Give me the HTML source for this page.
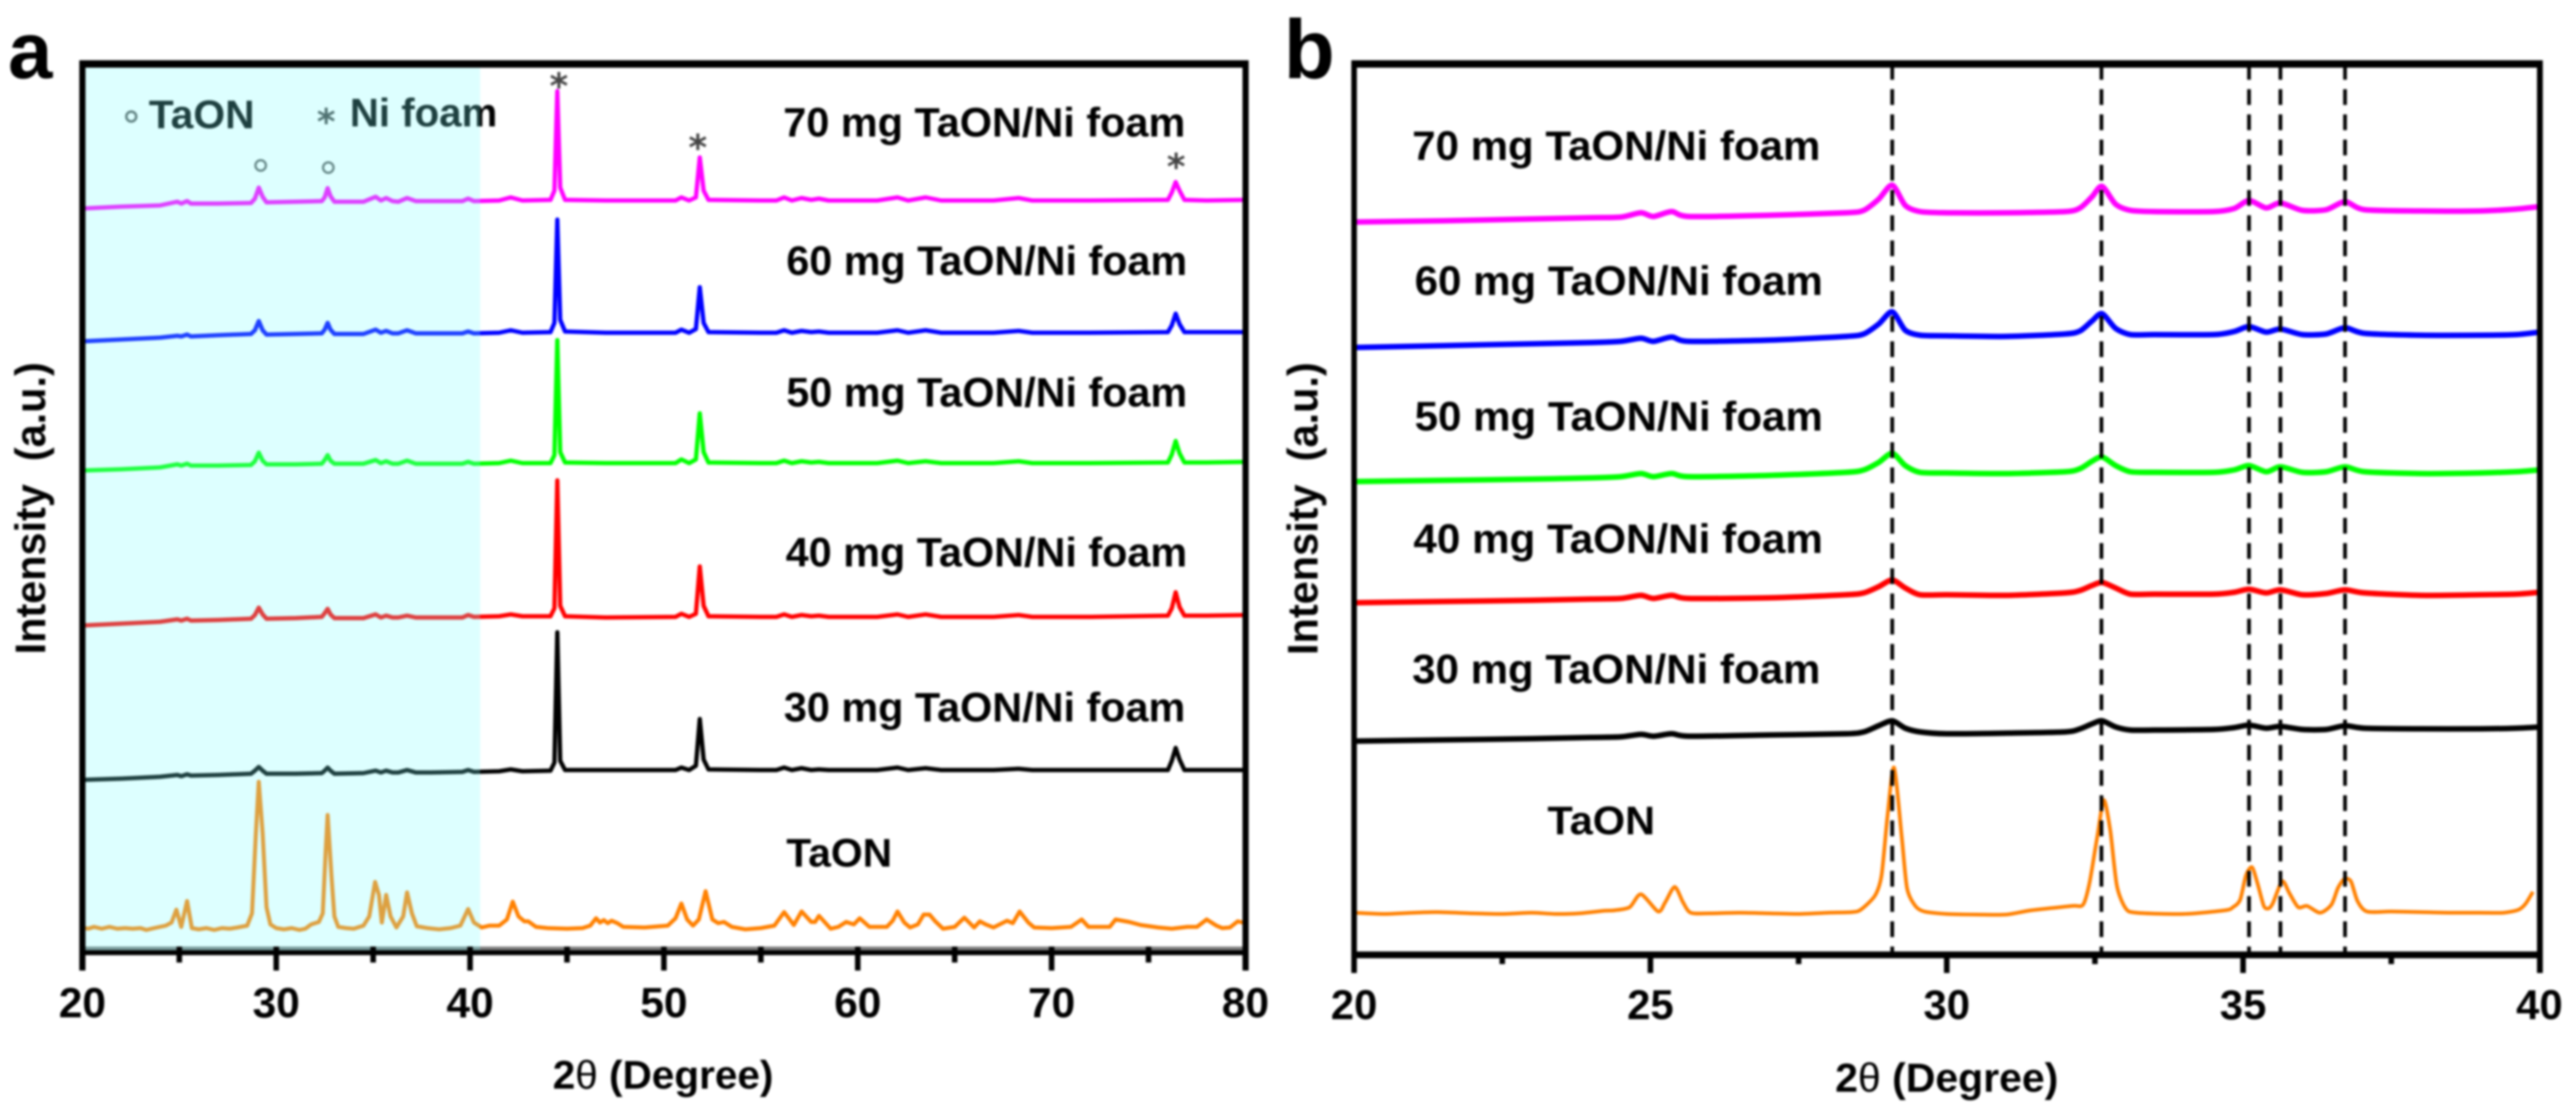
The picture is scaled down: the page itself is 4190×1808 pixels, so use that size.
<!DOCTYPE html>
<html lang="en">
<head>
<meta charset="utf-8">
<title>XRD patterns of TaON and TaON/Ni foam</title>
<style>
html,body{margin:0;padding:0;background:#fff;width:4190px;height:1808px;overflow:hidden}
svg{display:block;filter:blur(1.8px)}
text{font-family:"Liberation Sans","DejaVu Sans",sans-serif;font-weight:700;fill:#000}
</style>
</head>
<body>
<svg id="figure" xmlns="http://www.w3.org/2000/svg" width="4190" height="1808" viewBox="0 0 4190 1808">
  <rect x="0" y="0" width="4190" height="1808" fill="#fff"/>

  <g id="panelA">
    <text x="13" y="127" font-size="130">a</text>
    <g id="framesA"></g>
    <g id="tracesA"></g>
    <text x="1274" y="222" font-size="67" textLength="654" lengthAdjust="spacingAndGlyphs">70 mg TaON/Ni foam</text>
    <text x="1279" y="447" font-size="67" textLength="652" lengthAdjust="spacingAndGlyphs">60 mg TaON/Ni foam</text>
    <text x="1279" y="661" font-size="67" textLength="652" lengthAdjust="spacingAndGlyphs">50 mg TaON/Ni foam</text>
    <text x="1278" y="921" font-size="67" textLength="653" lengthAdjust="spacingAndGlyphs">40 mg TaON/Ni foam</text>
    <text x="1275" y="1173" font-size="67" textLength="653" lengthAdjust="spacingAndGlyphs">30 mg TaON/Ni foam</text>
    <text x="1279" y="1409" font-size="65" textLength="172" lengthAdjust="spacingAndGlyphs">TaON</text>

    <circle cx="213.5" cy="189.5" r="8" fill="none" stroke="#555" stroke-width="4"/>
    <text x="242" y="208.5" font-size="65" textLength="172" lengthAdjust="spacingAndGlyphs">TaON</text>
    <text x="530.5" y="218" font-size="58" text-anchor="middle" style="font-family:'DejaVu Sans',sans-serif;font-weight:700;fill:#444">*</text>
    <text x="569" y="205.5" font-size="65" textLength="240" lengthAdjust="spacingAndGlyphs">Ni foam</text>
    <circle cx="424" cy="269" r="8.5" fill="none" stroke="#555" stroke-width="3.5"/>
    <circle cx="534" cy="272.5" r="8.5" fill="none" stroke="#555" stroke-width="3.5"/>
    <text x="909" y="160" font-size="58" text-anchor="middle" style="font-family:'DejaVu Sans',sans-serif;font-weight:700;fill:#444">*</text>
    <text x="1135" y="260" font-size="58" text-anchor="middle" style="font-family:'DejaVu Sans',sans-serif;font-weight:700;fill:#444">*</text>
    <text x="1913" y="291" font-size="58" text-anchor="middle" style="font-family:'DejaVu Sans',sans-serif;font-weight:700;fill:#444">*</text>

    <rect x="139" y="110" width="642" height="1435" fill="rgb(120,255,255)" fill-opacity="0.25"/>
    <g id="ticksA"></g>
    <text x="899" y="1770" font-size="65" textLength="359" lengthAdjust="spacingAndGlyphs">2<tspan style="font-weight:400">θ</tspan> (Degree)</text>
    <text x="73.5" y="1064" transform="rotate(-90 73.5 1064)" font-size="70" textLength="475" lengthAdjust="spacingAndGlyphs" xml:space="preserve">Intensity  (a.u.)</text>
  </g>

  <g id="panelB">
    <text x="2088" y="127" font-size="136">b</text>
    <g id="framesB"></g>
    <g id="tracesB"></g>
    <g id="dashesB"></g>
    <text x="2297" y="260" font-size="67" textLength="664" lengthAdjust="spacingAndGlyphs">70 mg TaON/Ni foam</text>
    <text x="2301" y="479.5" font-size="67" textLength="664" lengthAdjust="spacingAndGlyphs">60 mg TaON/Ni foam</text>
    <text x="2301" y="700" font-size="67" textLength="664" lengthAdjust="spacingAndGlyphs">50 mg TaON/Ni foam</text>
    <text x="2299" y="899" font-size="67" textLength="666" lengthAdjust="spacingAndGlyphs">40 mg TaON/Ni foam</text>
    <text x="2297" y="1111" font-size="67" textLength="664" lengthAdjust="spacingAndGlyphs">30 mg TaON/Ni foam</text>
    <text x="2517" y="1356.5" font-size="65" textLength="175" lengthAdjust="spacingAndGlyphs">TaON</text>
    <g id="ticksB"></g>
    <text x="2985" y="1775" font-size="66" textLength="363" lengthAdjust="spacingAndGlyphs">2<tspan style="font-weight:400">θ</tspan> (Degree)</text>
    <text x="2143" y="1065" transform="rotate(-90 2143 1065)" font-size="70" textLength="476" lengthAdjust="spacingAndGlyphs" xml:space="preserve">Intensity  (a.u.)</text>
  </g>
</svg>

<script>
/* ---------- panel a data ---------- */
const thetaFoamA = [20,22,24,24.9,25.1,25.4,25.6,27,28.7,28.9,29.1,29.3,29.5,31,32.35,32.5,32.65,32.8,33,34.5,35.13,35.4,35.67,36,36.3,36.75,37.2,38,39.6,39.9,40.2,41.5,42.1,42.7,44.15,44.35,44.5,44.65,44.9,47,50.6,50.9,51.3,51.65,51.85,52.05,52.3,55,55.8,56.2,56.6,57.1,57.6,58,58.5,61,62.05,62.6,63.5,64.3,67,68.3,69,72,76,76.2,76.4,76.6,76.85,78,80];
const magentaA = [1206,1209,1211,1217,1214,1218,1214,1214,1215,1222,1240,1225,1216,1217,1218,1224,1239,1226,1217,1217,1225,1219,1223,1218,1217,1223,1218,1218,1218,1222,1218,1219,1224,1219,1220,1235,1397,1240,1220,1219,1219,1224,1219,1224,1289,1235,1220,1219,1219,1224,1219,1223,1220,1222,1219,1219,1224,1219,1224,1219,1219,1223,1219,1219,1220,1232,1249,1235,1220,1219,1220];
const blueA = [990,993,996,999,998,1001,998,1000,1002,1008,1023,1008,1001,1002,1003,1009,1020,1009,1002,1002,1009,1004,1007,1003,1003,1008,1003,1003,1003,1006,1003,1004,1008,1004,1005,1020,1188,1025,1006,1004,1004,1009,1004,1010,1078,1020,1005,1004,1004,1008,1004,1007,1005,1006,1004,1004,1008,1004,1008,1004,1004,1007,1004,1004,1005,1016,1035,1018,1005,1005,1005];
const greenA = [780,782,785,790,788,791,788,788,789,795,809,796,790,790,791,797,805,796,791,791,797,792,795,791,791,796,791,791,791,794,791,792,796,792,792,805,992,810,793,792,792,798,792,798,873,810,793,792,792,796,792,795,793,794,792,792,796,792,795,792,792,795,792,792,793,806,828,808,793,793,794];
const redA = [528,531,534,538,536,539,536,537,539,545,557,546,539,540,542,548,555,546,540,540,546,541,544,541,541,544,541,541,541,545,542,543,546,543,543,556,764,560,543,541,542,547,542,547,624,560,543,542,542,546,542,545,543,544,542,542,546,542,546,542,542,545,542,542,544,556,582,558,544,544,545];
const blackA = [277,279,282,285,283,286,284,285,287,292,298,292,287,287,288,292,297,292,287,288,292,289,292,289,289,293,289,289,290,293,290,291,294,291,292,305,517,308,293,293,293,297,293,300,376,310,294,293,293,297,293,296,293,294,293,293,297,293,296,293,293,295,293,293,293,308,329,310,293,293,293];
const thetaOrangeA = [20,20.3,20.6,21,21.4,21.8,22.2,22.6,23,23.3,23.7,24,24.3,24.6,24.85,25.1,25.4,25.65,26,26.4,26.8,27.2,27.6,28,28.5,28.75,28.95,29.1,29.3,29.5,29.7,30,30.4,30.8,31.2,31.5,31.8,32.2,32.4,32.55,32.65,32.85,33,33.2,33.6,34,34.5,34.8,35.1,35.3,35.45,35.67,35.9,36.2,36.55,36.75,37,37.25,37.8,38.4,39,39.5,39.9,40.2,40.6,41,41.5,41.9,42.2,42.5,42.8,43,43.4,44,45,45.8,46.2,46.5,46.7,46.9,47.1,47.3,47.6,47.9,49,50.2,50.6,50.9,51.2,51.5,51.8,52.15,52.5,52.8,53.1,53.5,54.2,55,55.7,56.2,56.7,57.1,57.6,57.8,58,58.6,59,59.4,59.8,60.1,60.6,61.5,61.8,62.05,62.4,62.7,63.1,63.4,63.7,64,64.4,65,65.5,66,66.3,66.6,67,67.7,68,68.35,68.8,69.1,70,71,71.55,71.9,72.5,73,73.3,74,74.6,75.5,76.2,77,77.5,78,78.5,78.8,79.2,79.6,80];
const orangeA = [37,35,38,35,38,35,36,35,36,33,36,38,40,45,66,38,80,36,34,36,33,36,35,37,40,60,190,274,190,70,42,36,34,36,33,35,42,46,60,160,220,120,55,38,36,35,40,55,111,90,45,90,55,37,55,94,60,39,36,34,36,40,67,45,37,40,40,50,79,55,47,47,38,36,35,36,40,52,45,49,44,48,44,38,37,40,52,76,50,40,50,96,50,44,46,38,34,36,40,62,41,63,46,46,56,35,38,46,42,52,38,38,48,63,45,37,42,58,58,47,35,38,53,37,47,42,37,48,44,63,45,37,36,38,50,38,38,38,50,46,41,37,35,38,38,50,40,36,37,47,44];
const xTicksMajorA = [20,30,40,50,60,70,80];
const xTicksMinorA = [25,35,45,55,65,75];

/* ---------- panel b data ---------- */
const thetaFoamB = [20,21.5,23,24,24.5,24.84,25.05,25.36,25.65,27,28.3,28.6,28.85,29.08,29.3,29.55,30,31,32,32.25,32.45,32.62,32.85,33.1,33.5,34.5,34.85,35.1,35.39,35.63,36,36.4,36.72,37.05,38,39,39.6,40];
const magentaB = [1191,1193,1196,1198,1199,1206,1200,1208,1200,1202,1206,1210,1228,1251,1218,1208,1206,1206,1208,1214,1232,1249,1220,1210,1208,1208,1213,1226,1214,1222,1210,1211,1224,1211,1209,1209,1212,1216];
const blueB = [987,990,993,995,997,1002,997,1004,997,999,1005,1009,1025,1045,1015,1007,1006,1005,1009,1014,1030,1042,1018,1008,1008,1008,1013,1021,1012,1017,1008,1009,1019,1010,1007,1007,1008,1012];
const greenB = [769,771,773,775,777,782,777,782,777,779,784,788,800,815,795,784,783,782,785,790,802,809,795,785,784,784,788,795,785,793,784,785,793,785,782,783,785,788];
const redB = [572,574,576,578,579,584,579,584,579,580,585,588,598,609,596,585,585,584,588,592,600,605,596,586,586,586,589,594,588,593,585,587,593,588,584,585,586,589];
const blackB = [347,349,351,353,354,358,355,359,355,357,359,362,372,380,368,362,359,360,362,367,375,380,370,365,365,366,369,373,368,371,366,366,372,368,367,367,368,370];
const thetaOrangeB = [20,20.5,21,21.4,22,22.5,23,23.4,23.8,24.2,24.4,24.65,24.84,25.13,25.25,25.41,25.55,25.68,26,26.5,27,27.5,28,28.4,28.55,28.79,28.9,29,29.11,29.24,29.33,29.47,29.62,30,30.5,31,31.43,32.11,32.3,32.41,32.54,32.65,32.76,32.87,33.02,33.2,34,34.7,34.83,34.95,35.05,35.15,35.24,35.35,35.43,35.5,35.66,35.78,35.93,36.08,36.3,36.49,36.6,36.71,36.82,36.93,37.09,37.5,38,38.5,39,39.4,39.65,39.77,39.89];
const orangeB = [68,66,68,69,67,66,68,66,67,71,72,77,98,70,85,110,85,68,67,68,67,66,68,69,73,96,129,225,304,192,108,79,70,66,65,65,72,79,81,117,192,251,201,112,75,68,66,72,77,89,129,142,117,79,75,83,119,100,77,79,68,81,108,123,119,87,70,70,69,68,68,68,73,83,102];
const peakGuidesB = [29.08,32.61,35.1,35.63,36.72];
const xTicksMajorB = [20,25,30,35,40];
const xTicksMinorB = [22.5,27.5,32.5,37.5];

/* ---------- axis functions ---------- */
function xA(t){ return 134 + (t - 20) * 31.53; }
function yA(v){ return 1545 - v; }
function xB(t){ return 2202.5 + (t - 20) * 96.4; }
function yB(v){ return 1552 - v; }

const NS = 'http://www.w3.org/2000/svg';

function makeRect(parent, x, y, w, h, fill){
  const el = document.createElementNS(NS, 'rect');
  el.setAttribute('x', x);
  el.setAttribute('y', y);
  el.setAttribute('width', w);
  el.setAttribute('height', h);
  el.setAttribute('fill', fill);
  parent.appendChild(el);
  return el;
}

function tracePath(pts, smooth){
  let d = 'M' + pts[0][0].toFixed(1) + ' ' + pts[0][1].toFixed(1);
  for (let i = 0; i < pts.length - 1; i++) {
    const p1 = pts[i];
    const p2 = pts[i + 1];
    if (!smooth) {
      d += 'L' + p2[0].toFixed(1) + ' ' + p2[1].toFixed(1);
      continue;
    }
    const p0 = pts[Math.max(0, i - 1)];
    const p3 = pts[Math.min(pts.length - 1, i + 2)];
    const c1x = p1[0] + (p2[0] - p0[0]) * 0.13;
    const c1y = p1[1] + (p2[1] - p0[1]) * 0.13;
    const c2x = p2[0] - (p3[0] - p1[0]) * 0.13;
    const c2y = p2[1] - (p3[1] - p1[1]) * 0.13;
    d += 'C' + c1x.toFixed(1) + ' ' + c1y.toFixed(1) + ' ' + c2x.toFixed(1) + ' ' + c2y.toFixed(1) + ' ' + p2[0].toFixed(1) + ' ' + p2[1].toFixed(1);
  }
  return d;
}

function drawTrace(parent, thetas, values, xf, yf, color, width, name, smooth){
  const pts = thetas.map(function(t, i){ return [xf(t), yf(values[i])]; });
  const el = document.createElementNS(NS, 'path');
  el.setAttribute('d', tracePath(pts, smooth));
  el.setAttribute('fill', 'none');
  el.setAttribute('stroke', color);
  el.setAttribute('stroke-width', width);
  el.setAttribute('stroke-linejoin', 'round');
  el.setAttribute('stroke-linecap', 'butt');
  
  
  parent.appendChild(el);
}

function drawTicks(parent, ticks, xf, top, bottom, width, prefix){
  ticks.forEach(function(t){
    const el = makeRect(parent, xf(t) - width / 2, top, width, bottom - top, '#000');
    
    
  });
}

function drawTickLabels(parent, ticks, xf, baseline, size, prefix){
  ticks.forEach(function(t){
    const el = document.createElementNS(NS, 'text');
    el.setAttribute('x', xf(t));
    el.setAttribute('y', baseline);
    el.setAttribute('font-size', size);
    el.setAttribute('text-anchor', 'middle');
    
    
    el.textContent = String(t);
    parent.appendChild(el);
  });
}

/* ---------- panel a ---------- */
const framesA = document.getElementById('framesA');
const tracesA = document.getElementById('tracesA');
const ticksA = document.getElementById('ticksA');

let frameEl = makeRect(framesA, 129, 98, 1902, 12, '#000');


frameEl = makeRect(framesA, 129, 1539, 1902, 6, '#7d7d7d');


frameEl = makeRect(framesA, 129, 1545, 1902, 8, '#000');



drawTrace(tracesA, thetaOrangeA, orangeA, xA, yA, '#ff8000', 6.5, 'trace-taon-a', false);
drawTrace(tracesA, thetaFoamA, blackA, xA, yA, '#000000', 7, 'trace-30mg-a', false);
drawTrace(tracesA, thetaFoamA, redA, xA, yA, '#ff0000', 7, 'trace-40mg-a', false);
drawTrace(tracesA, thetaFoamA, greenA, xA, yA, '#00ff00', 7, 'trace-50mg-a', false);
drawTrace(tracesA, thetaFoamA, blueA, xA, yA, '#0000ff', 7, 'trace-60mg-a', false);
drawTrace(tracesA, thetaFoamA, magentaA, xA, yA, '#ff00ff', 7, 'trace-70mg-a', false);

frameEl = makeRect(ticksA, 129, 98, 10, 1480, '#000');


frameEl = makeRect(ticksA, 2021, 98, 10, 1480, '#000');


drawTicks(ticksA, xTicksMajorA.slice(1, -1), xA, 1539, 1578, 9, 'panel-a-major-tick');
drawTicks(ticksA, xTicksMinorA, xA, 1539, 1565, 9, 'panel-a-minor-tick');
drawTickLabels(ticksA, xTicksMajorA, xA, 1654, 69, 'panel-a-tick-label');

/* ---------- panel b ---------- */
const framesB = document.getElementById('framesB');
const tracesB = document.getElementById('tracesB');
const dashesB = document.getElementById('dashesB');
const ticksB = document.getElementById('ticksB');

frameEl = makeRect(framesB, 2198, 98, 1938, 12, '#000');


frameEl = makeRect(framesB, 2198, 1547, 1938, 11, '#000');



drawTrace(tracesB, thetaOrangeB, orangeB, xB, yB, '#ff8000', 6, 'trace-taon-b', true);
drawTrace(tracesB, thetaFoamB, blackB, xB, yB, '#000000', 9, 'trace-30mg-b', true);
drawTrace(tracesB, thetaFoamB, redB, xB, yB, '#ff0000', 9, 'trace-40mg-b', true);
drawTrace(tracesB, thetaFoamB, greenB, xB, yB, '#00ff00', 9, 'trace-50mg-b', true);
drawTrace(tracesB, thetaFoamB, blueB, xB, yB, '#0000ff', 9, 'trace-60mg-b', true);
drawTrace(tracesB, thetaFoamB, magentaB, xB, yB, '#ff00ff', 9, 'trace-70mg-b', true);

peakGuidesB.forEach(function(t){
  const el = document.createElementNS(NS, 'line');
  el.setAttribute('x1', xB(t));
  el.setAttribute('x2', xB(t));
  el.setAttribute('y1', 104);
  el.setAttribute('y2', 1547);
  el.setAttribute('stroke', '#000');
  el.setAttribute('stroke-width', 6);
  el.setAttribute('stroke-dasharray', '25.6 15.4');
  
  
  dashesB.appendChild(el);
});

frameEl = makeRect(ticksB, 2198, 98, 9, 1484, '#000');


frameEl = makeRect(ticksB, 4126.5, 98, 9.5, 1484, '#000');


drawTicks(ticksB, xTicksMajorB.slice(1, -1), xB, 1547, 1582, 9, 'panel-b-major-tick');
drawTicks(ticksB, xTicksMinorB, xB, 1547, 1567.5, 9, 'panel-b-minor-tick');
drawTickLabels(ticksB, xTicksMajorB, xB, 1657, 68, 'panel-b-tick-label');
</script>
</body>
</html>
